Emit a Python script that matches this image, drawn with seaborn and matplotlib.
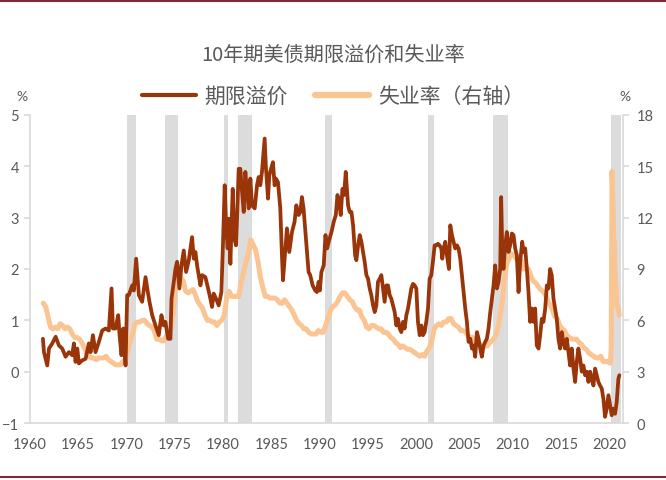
import numpy as np
import pandas as pd
import seaborn as sns
import matplotlib.pyplot as plt
from matplotlib.lines import Line2D

# 10-year term premium (%)
tp_years = [
    1961.34, 1961.45, 1961.79, 1961.97, 1962.31, 1962.66, 1963.00, 1963.34, 1963.69, 1964.03,
    1964.38, 1964.55, 1964.72, 1964.90, 1965.07, 1965.41, 1965.76, 1966.10, 1966.28, 1966.52,
    1966.79, 1967.14, 1967.48, 1967.83, 1968.17, 1968.45, 1968.59, 1968.86, 1969.14, 1969.28,
    1969.48, 1969.66, 1969.90, 1970.07, 1970.24, 1970.59, 1970.76, 1971.00, 1971.28, 1971.62,
    1971.97, 1972.21, 1972.38, 1972.66, 1973.00, 1973.34, 1973.62, 1973.86, 1974.03, 1974.31,
    1974.55, 1974.66, 1974.90, 1975.07, 1975.24, 1975.48, 1975.69, 1975.93, 1976.17, 1976.45,
    1976.79, 1976.97, 1977.14, 1977.31, 1977.48, 1977.66, 1977.83, 1978.17, 1978.45, 1978.69,
    1978.86, 1979.03, 1979.28, 1979.55, 1979.83, 1980.00, 1980.17, 1980.31, 1980.48, 1980.59,
    1980.76, 1981.00, 1981.17, 1981.34, 1981.45, 1981.62, 1981.79, 1981.97, 1982.14, 1982.31,
    1982.48, 1982.66, 1982.83, 1983.00, 1983.28, 1983.52, 1983.69, 1983.86, 1984.03, 1984.31,
    1984.45, 1984.66, 1984.79, 1984.97, 1985.17, 1985.34, 1985.48, 1985.69, 1985.93, 1986.10,
    1986.21, 1986.38, 1986.62, 1986.86, 1987.14, 1987.41, 1987.59, 1987.83, 1988.00, 1988.17,
    1988.34, 1988.59, 1988.86, 1989.03, 1989.28, 1989.55, 1989.72, 1989.90,
    1990.02, 1990.19, 1990.43, 1990.61, 1990.78, 1990.99, 1991.23, 1991.47, 1991.68, 1991.85,
    1992.02, 1992.19, 1992.37, 1992.54, 1992.71, 1992.95, 1993.12, 1993.30, 1993.47, 1993.68,
    1993.81, 1993.99, 1994.16, 1994.33, 1994.50, 1994.67, 1994.85, 1995.02, 1995.19, 1995.36,
    1995.54, 1995.71, 1995.88, 1996.05, 1996.23, 1996.40, 1996.57, 1996.74, 1996.92, 1997.09,
    1997.26, 1997.43, 1997.61, 1997.78, 1997.95, 1998.12, 1998.30, 1998.47, 1998.64, 1998.81,
    1998.99, 1999.16, 1999.33, 1999.50, 1999.68, 1999.85, 2000.02, 2000.19, 2000.37, 2000.54,
    2000.71, 2000.88, 2001.05, 2001.23, 2001.40, 2001.57, 2001.74, 2001.92, 2002.09, 2002.26,
    2002.43, 2002.61, 2002.71, 2002.85, 2003.02, 2003.19, 2003.40, 2003.54, 2003.71, 2003.88,
    2004.05, 2004.23, 2004.40, 2004.57, 2004.78, 2004.92, 2005.09, 2005.26, 2005.43, 2005.61,
    2005.78, 2005.95, 2006.12, 2006.30, 2006.47, 2006.64, 2006.81, 2006.99, 2007.16, 2007.33,
    2007.50, 2007.68, 2007.85, 2008.02, 2008.19, 2008.37, 2008.54, 2008.71, 2008.81, 2008.92,
    2009.05, 2009.23, 2009.40, 2009.57, 2009.74, 2009.92, 2010.09, 2010.26, 2010.43, 2010.61,
    2010.78, 2010.99, 2011.12, 2011.30, 2011.47, 2011.64, 2011.81, 2011.99, 2012.16, 2012.33,
    2012.50, 2012.68, 2012.85, 2013.02, 2013.19, 2013.37, 2013.54, 2013.71, 2013.88, 2014.05,
    2014.23, 2014.40, 2014.57, 2014.74, 2014.92, 2015.09, 2015.26, 2015.43, 2015.61, 2015.78,
    2015.95, 2016.12, 2016.30, 2016.47, 2016.64, 2016.81, 2016.99, 2017.16, 2017.33, 2017.50,
    2017.68, 2017.85, 2018.02, 2018.19, 2018.37, 2018.54, 2018.71, 2018.88, 2019.05, 2019.23,
    2019.40, 2019.57, 2019.74, 2019.92, 2020.09, 2020.26, 2020.43, 2020.61, 2020.78, 2020.95,
    2021.05,
]
tp_values = [
    0.64, 0.38, 0.12, 0.45, 0.55, 0.68, 0.51, 0.45, 0.29, 0.38,
    0.32, 0.55, 0.19, 0.45, 0.16, 0.22, 0.25, 0.55, 0.38, 0.71,
    0.38, 0.58, 0.80, 0.84, 0.80, 1.62, 0.84, 0.84, 1.10, 0.71,
    0.32, 0.84, 0.12, 1.49, 1.49, 1.68, 1.58, 2.20, 1.49, 1.36,
    1.84, 1.55, 1.36, 1.10, 0.90, 0.71, 1.10, 0.90, 0.97, 0.64,
    0.64, 1.42, 1.75, 2.00, 2.14, 1.62, 2.07, 2.36, 1.94, 2.17,
    2.62, 2.20, 2.33, 2.07, 1.88, 1.68, 1.88, 1.84, 1.62, 1.42,
    1.26, 1.52, 1.42, 1.29, 1.55, 2.53, 3.63, 2.85, 2.40, 2.98,
    2.10, 3.56, 2.59, 2.46, 2.98, 3.95, 3.95, 3.50, 3.11, 3.89,
    3.50, 3.18, 3.76, 3.24, 3.18, 3.63, 3.79, 3.63, 3.89, 4.54,
    3.95, 3.37, 3.82, 3.95, 4.08, 3.63, 3.76, 3.69, 3.18, 2.27,
    1.78, 2.20, 2.79, 2.33, 2.72, 2.92, 3.24, 3.05, 3.11, 3.40,
    3.18, 2.59, 1.94, 1.88, 1.68, 1.58, 1.55, 1.75,
    1.58, 1.94, 2.07, 2.66, 2.40, 2.56, 2.72, 2.92, 3.05, 3.44,
    3.31, 3.05, 3.56, 3.44, 3.89, 3.24, 3.11, 3.11, 2.85, 2.27,
    2.17, 2.46, 2.66, 2.53, 2.33, 2.14, 1.88, 1.81, 1.62, 1.49,
    1.29, 1.16, 1.29, 1.75, 1.81, 1.88, 1.62, 1.36, 1.68, 1.68,
    1.49, 1.42, 1.29, 1.16, 0.90, 1.03, 0.84, 0.77, 0.97, 0.84,
    1.10, 1.23, 1.42, 1.62, 1.71, 1.68, 1.62, 0.97, 0.71, 0.90,
    0.71, 0.77, 0.97, 1.23, 1.81, 1.88, 2.14, 2.46, 2.46, 2.49,
    2.46, 2.40, 2.20, 2.40, 2.53, 2.27, 2.00, 2.85, 2.66, 2.53,
    2.40, 2.46, 2.40, 2.20, 1.81, 1.55, 1.23, 0.97, 0.58, 0.64,
    0.45, 0.51, 0.29, 0.77, 0.64, 0.45, 0.29, 0.51, 0.58, 0.64,
    0.84, 1.16, 1.42, 1.68, 2.07, 1.62, 1.75, 2.00, 3.40, 2.40,
    2.00, 2.46, 2.72, 2.33, 2.46, 2.69, 2.66, 2.40, 2.27, 1.55,
    2.14, 2.53, 2.33, 2.40, 2.00, 1.55, 0.97, 1.23, 0.97, 1.23,
    0.51, 0.45, 0.71, 1.03, 0.97, 1.23, 1.68, 1.62, 2.00, 1.88,
    1.42, 1.23, 1.03, 0.64, 0.45, 0.77, 0.58, 0.45, 0.64, 0.38,
    0.12, 0.45, 0.06, -0.20, 0.19, 0.45, 0.25, 0.00, 0.12, -0.07,
    0.00, -0.20, 0.00, -0.14, -0.27, 0.06, -0.07, -0.20, -0.27, -0.33,
    -0.53, -0.88, -0.72, -0.46, -0.66, -0.85, -0.72, -0.82, -0.59, -0.14,
    -0.07,
]

# US unemployment rate (%), quarterly 1961Q2-2019Q4
unemp_quarterly = [
    7.0, 6.8, 6.2,
    5.6, 5.5, 5.6, 5.5,  5.8, 5.7, 5.5, 5.6,  5.5, 5.2, 5.0, 5.0,  4.9, 4.7, 4.4, 4.1,
    3.9, 3.8, 3.8, 3.7,  3.8, 3.8, 3.8, 3.9,  3.7, 3.6, 3.5, 3.4,  3.4, 3.4, 3.6, 3.6,
    4.2, 4.8, 5.2, 5.8,  5.9, 5.9, 6.0, 6.0,  5.8, 5.7, 5.6, 5.4,  4.9, 4.9, 4.8, 4.8,
    5.1, 5.2, 5.6, 6.6,  8.3, 8.9, 8.5, 8.3,  7.7, 7.6, 7.7, 7.8,  7.5, 7.1, 6.9, 6.7,
    6.3, 6.0, 6.0, 5.9,  5.9, 5.7, 5.9, 6.0,  6.3, 7.3, 7.7, 7.4,  7.4, 7.4, 7.4, 8.2,
    8.8, 9.4, 9.9, 10.7, 10.4, 10.1, 9.4, 8.5, 7.9, 7.4, 7.4, 7.3,  7.3, 7.3, 7.2, 7.0,
    7.0, 7.2, 7.0, 6.8,  6.6, 6.3, 6.0, 5.8,  5.7, 5.5, 5.5, 5.3,  5.2, 5.2, 5.2, 5.4,
    5.3, 5.3, 5.7, 6.1,  6.6, 6.8, 6.9, 7.1,  7.4, 7.6, 7.6, 7.4,  7.2, 7.1, 6.8, 6.6,
    6.6, 6.2, 6.0, 5.6,  5.5, 5.7, 5.7, 5.6,  5.5, 5.5, 5.3, 5.3,  5.2, 5.0, 4.9, 4.7,
    4.6, 4.4, 4.5, 4.4,  4.3, 4.3, 4.2, 4.1,  4.0, 3.9, 4.0, 3.9,  4.2, 4.4, 4.8, 5.5,
    5.7, 5.8, 5.7, 5.9,  5.9, 6.1, 6.1, 5.8,  5.7, 5.6, 5.4, 5.4,  5.3, 5.1, 5.0, 5.0,
    4.7, 4.6, 4.6, 4.4,  4.5, 4.5, 4.7, 4.8,  5.0, 5.3, 6.0, 6.9,  8.3, 9.3, 9.6, 9.9,
    9.8, 9.6, 9.5, 9.5,  9.0, 9.1, 9.0, 8.6,  8.3, 8.2, 8.0, 7.8,  7.7, 7.5, 7.2, 6.9,
    6.6, 6.2, 6.1, 5.7,  5.5, 5.4, 5.1, 5.0,  4.9, 4.9, 4.9, 4.7,  4.6, 4.4, 4.3, 4.1,
    4.0, 3.9, 3.8, 3.8,  3.9, 3.6, 3.6, 3.6,
]
# monthly Jan 2020 - Jan 2021
unemp_monthly_2020 = [3.5, 3.5, 4.4, 14.7, 13.3, 11.1, 10.2, 8.4, 7.9, 6.9, 6.7, 6.7, 6.3]

# NBER recessions (start, end)
recessions = [
    (1970.0, 1971.0), (1974.0, 1975.3), (1980.1, 1980.55), (1981.5, 1982.95),
    (1990.6, 1991.3), (2001.25, 2001.9), (2008.0, 2009.5), (2020.2, 2021.2),
]

x_ticks = [1960, 1965, 1970, 1975, 1980, 1985, 1990, 1995, 2000, 2005, 2010, 2015, 2020]
left_ticks = [-1, 0, 1, 2, 3, 4, 5]
right_ticks = [0, 3, 6, 9, 12, 15, 18]

tp = pd.DataFrame({"year": tp_years, "value": tp_values})
q_years = 1961.375 + 0.25 * np.arange(len(unemp_quarterly))
m_years = 2020.04 + np.arange(len(unemp_monthly_2020)) / 12
ur = pd.DataFrame({
    "year": np.concatenate([q_years, m_years]),
    "value": unemp_quarterly + unemp_monthly_2020,
})

sns.set_style("white")
plt.rcParams["font.family"] = ["Lato", "Noto Sans CJK SC", "DejaVu Sans"]
cjk = ["Noto Sans CJK SC", "DejaVu Sans"]

dark = "#9A3409"
light = "#FAC593"
grey_txt = "#595959"
axis_grey = "#D9D9D9"

fig = plt.figure(figsize=(6.66, 4.81), dpi=100)
ax2 = fig.add_axes([0.045, 0.1185, 0.89, 0.6405])
ax = ax2.twinx()
# put the term premium line above the unemployment line
ax.set_zorder(ax2.get_zorder() + 1)
ax.patch.set_visible(False)

for s, e in recessions:
    ax2.axvspan(s, e, color="#DCDCDC", lw=0, zorder=0)

sns.lineplot(data=ur, x="year", y="value", ax=ax2, color=light, lw=3.6, zorder=2)
sns.lineplot(data=tp, x="year", y="value", ax=ax, color=dark, lw=2.7, zorder=3)

# left axis (term premium) lives on the twin so it draws on top; move ticks to the left
ax.yaxis.tick_left()
ax2.yaxis.tick_right()
ax.set_ylim(-1, 5)
ax2.set_ylim(0, 18)
ax.set_xlim(1960, 2021.4)
ax.set_yticks(left_ticks)
ax2.set_yticks(right_ticks)
ax2.set_xticks(x_ticks)
ax.set_xlabel("")
ax.set_ylabel("")
ax2.set_xlabel("")
ax2.set_ylabel("")

for a in (ax, ax2):
    for side in ("top", "left", "right", "bottom"):
        a.spines[side].set_visible(False)
for side in ("bottom", "right", "left"):
    ax2.spines[side].set_visible(True)
    ax2.spines[side].set_color(axis_grey)
    ax2.spines[side].set_linewidth(1.2)

for a in (ax, ax2):
    a.tick_params(axis="both", direction="out", length=4, width=1.2, color=axis_grey,
                  labelcolor=grey_txt, labelsize=10.5)
ax.tick_params(axis="y", pad=4)
ax2.tick_params(axis="y", pad=6)
ax2.tick_params(axis="x", pad=6)

fig.text(0.5, 0.886, "10年期美债期限溢价和失业率", ha="center", va="center",
         fontsize=14.5, color=grey_txt, family=cjk)
fig.text(0.033, 0.798, "%", ha="center", va="center", fontsize=10, color=grey_txt)
fig.text(0.938, 0.798, "%", ha="center", va="center", fontsize=10, color=grey_txt)

handles = [Line2D([], [], color=dark, lw=3), Line2D([], [], color=light, lw=4.5)]
fig.legend(handles, ["期限溢价", "失业率（右轴）"], loc="center", bbox_to_anchor=(0.5, 0.798),
           ncol=2, frameon=False, handlelength=2.6, handletextpad=0.4, columnspacing=1.3,
           prop={"family": cjk, "size": 15}, labelcolor=grey_txt)

# frame lines of the original screenshot
fig.add_artist(Line2D([0, 1], [0.995, 0.995], color="#7A2A3A", lw=1.5))
fig.add_artist(Line2D([0, 1], [0.006, 0.006], color="#7A2A3A", lw=1.5))

fig.savefig("out.png", dpi=100)
